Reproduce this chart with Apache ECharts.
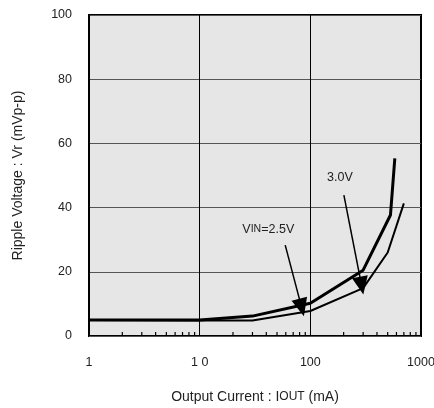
<!DOCTYPE html>
<html><head><meta charset="utf-8">
<script src="https://cdn.jsdelivr.net/npm/echarts@6/dist/echarts.min.js"></script>
<style>html,body{margin:0;padding:0;background:#fff}#c{width:434px;height:408px}</style>
</head><body><div id="c"></div>
<script>
// Data
const iout25 = [1, 10, 30, 100, 300, 530, 580];
const vr25   = [5, 5, 6.2, 10.2, 20.5, 37.7, 55.3];
const iout30 = [1, 10, 30, 100, 300, 500, 700];
const vr30   = [5, 4.8, 4.8, 7.8, 14.9, 26, 41.3];
const xTickLabels = {1: '1', 10: '1 0', 100: '100', 1000: '1000'};
const yTicks = [0, 20, 40, 60, 80, 100];
const minorTicks = [2,3,4,5,6,7,8,9,20,30,40,50,60,70,80,90,200,300,400,500,600,700,800,900];
const arrow25 = [[59.3, 28.3], [83.4, 8.9]];
const arrow30 = [[201, 43.9], [290.6, 15.7]];
const label25 = [41.7, 33.2];
const label30 = [185, 49.3];

const font = 'Liberation Sans, Arial, Helvetica, sans-serif';
const chart = echarts.init(document.getElementById('c'), null, {renderer: 'canvas'});
const zip = (a, b) => a.map((v, i) => [v, b[i]]);

chart.setOption({
  animation: false,
  backgroundColor: '#fff',
  grid: {left: 89, right: 13, top: 15, bottom: 72, outerBoundsMode: 'none', containLabel: false,
         show: true, backgroundColor: '#e6e6e6', borderColor: '#000', borderWidth: 2},
  xAxis: {
    type: 'log', logBase: 10, min: 1, max: 1000,
    name: 'Output Current : I{s|OUT} (mA)', nameLocation: 'middle', nameGap: 54,
    nameTextStyle: {fontFamily: font, fontSize: 14, color: '#222', rich: {s: {fontFamily: font, fontSize: 12, color: '#222'}}},
    axisLine: {show: false}, axisTick: {show: false},
    axisLabel: {margin: 20, fontFamily: font, fontSize: 12.5, color: '#222', formatter: v => xTickLabels[v] ?? ''},
    splitLine: {show: true, lineStyle: {color: '#000', width: 1}}
  },
  yAxis: {
    type: 'value', min: 0, max: 100, interval: 20,
    name: 'Ripple Voltage : Vr (mVp-p)', nameLocation: 'middle', nameGap: 64, nameRotate: 90,
    nameTextStyle: {fontFamily: font, fontSize: 14, color: '#222'},
    axisLine: {show: false}, axisTick: {show: false},
    axisLabel: {margin: 17, fontFamily: font, fontSize: 12.5, color: '#222', formatter: v => yTicks.includes(v) ? String(v) : ''},
    splitLine: {show: true, lineStyle: {color: '#555', width: 1}}
  },
  series: [
    {
      type: 'custom', silent: true, clip: false, z: 5,
      data: minorTicks.map(v => [v, 0]),
      renderItem: (params, api) => {
        const p = api.coord([api.value(0), 0]);
        return {type: 'line', shape: {x1: p[0], y1: p[1], x2: p[0], y2: p[1] - 4}, style: {stroke: '#000', lineWidth: 1.2}};
      }
    },
    {
      type: 'line', data: zip(iout25, vr25), symbol: 'none', z: 6,
      lineStyle: {color: '#000', width: 3}
    },
    {
      type: 'line', data: zip(iout30, vr30), symbol: 'none', z: 6,
      lineStyle: {color: '#000', width: 2}
    },
    {
      type: 'line', data: [], z: 7,
      markLine: {
        silent: true, symbol: ['none', 'triangle'], symbolSize: [16, 18],
        lineStyle: {color: '#000', width: 1.5, type: 'solid'}, label: {show: false},
        data: [
          [{coord: arrow25[0]}, {coord: arrow25[1]}],
          [{coord: arrow30[0]}, {coord: arrow30[1]}]
        ]
      },
      markPoint: {
        silent: true, symbol: 'circle', symbolSize: 0,
        label: {show: true, position: 'inside', fontFamily: font, fontSize: 12.5, color: '#222', rich: {s: {fontFamily: font, fontSize: 10.5, color: '#222'}}},
        data: [
          {coord: label25, value: 'V{s|IN}=2.5V', label: {formatter: 'V{s|IN}=2.5V'}},
          {coord: label30, value: '3.0V', label: {formatter: '3.0V'}}
        ]
      }
    }
  ]
});
</script></body></html>
